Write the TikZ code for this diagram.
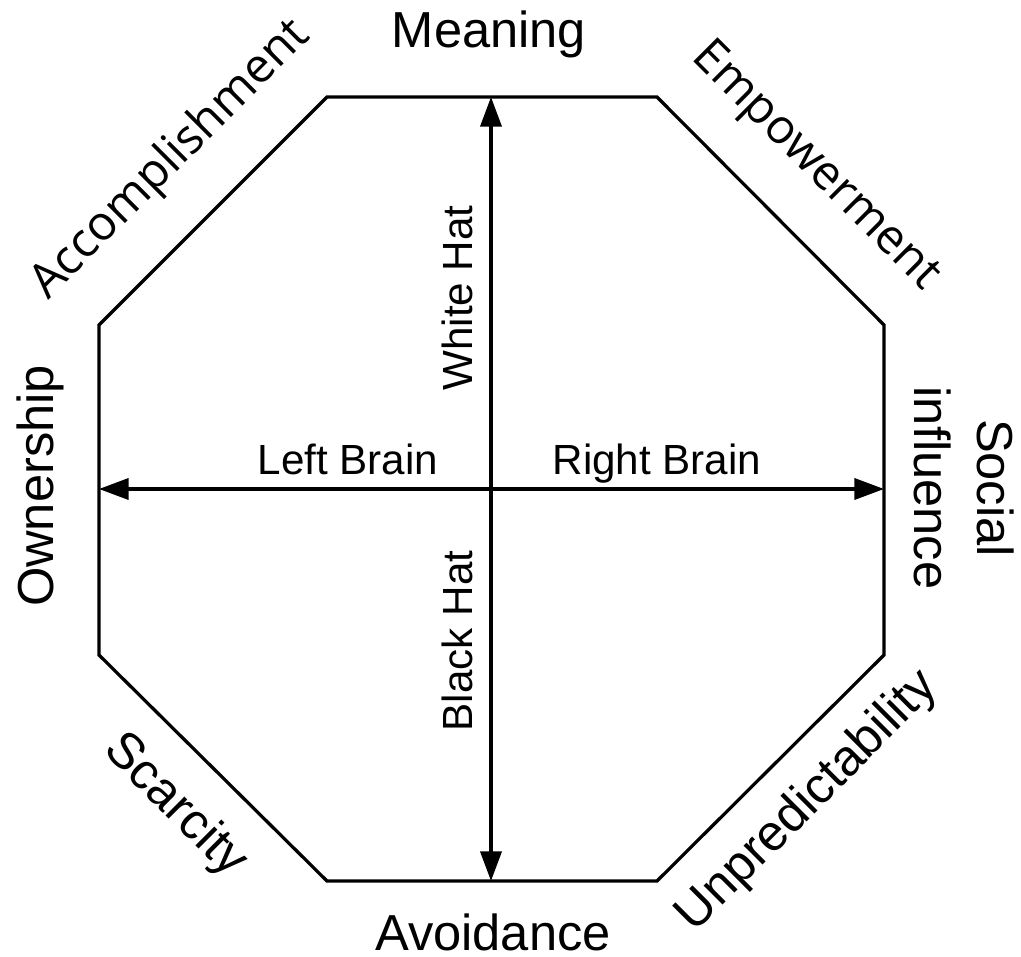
\documentclass[tikz,border=0pt]{standalone}
\usepackage{fontspec}
\setmainfont{Liberation Sans}
\newfontfamily\opensans{Open Sans}
\usetikzlibrary{arrows.meta}
\tikzset{
	outerlabel/.style={font=\fontsize{36}{45}\selectfont, inner sep=0pt, align=center},
	slantlabel/.style={font=\opensans\fontsize{34}{42}\selectfont, inner sep=0pt},
	innerlabel/.style={font=\fontsize{30}{36}\selectfont, inner sep=0pt},
	axisline/.style={line width=2.3pt, {Triangle[length=21pt,width=15pt]}-{Triangle[length=21pt,width=15pt]}}
}
\begin{document}
\begin{tikzpicture}[x=0.025cm,y=-0.025cm]
			\useasboundingbox (0,0) rectangle (1021,957);
			% octagon
			\coordinate (o1) at (327,97);
			\coordinate (o2) at (657,97);
			\coordinate (o3) at (884,325);
			\coordinate (o4) at (884,655);
			\coordinate (o5) at (657,881);
			\coordinate (o6) at (327,881);
			\coordinate (o7) at (99,655);
			\coordinate (o8) at (99,325);
			\draw[line width=2.3pt, line join=miter] (o1) -- (o2) -- (o3) -- (o4) -- (o5) -- (o6) -- (o7) -- (o8) -- cycle;
			% axes
			\coordinate (hattop) at (491,97);
			\coordinate (hatbottom) at (491,881);
			\coordinate (brainleft) at (99,489);
			\coordinate (brainright) at (884,489);
			\draw[axisline] (hattop) -- (hatbottom);
			\draw[axisline] (brainleft) -- (brainright);
			\node[innerlabel, anchor=base] (leftbrain) at (348,475) {Left Brain};
			\node[innerlabel, anchor=base] (rightbrain) at (657,475) {Right Brain};
			\node[innerlabel, rotate=90] (whitehat) at (457,298) {White Hat};
			\node[innerlabel, rotate=90] (blackhat) at (457,641) {Black Hat};
			% drives round the octagon
			\node[outerlabel, anchor=base] (meaning) at (489,48) {Meaning};
			\node[outerlabel, anchor=base] (avoidance) at (493,950) {Avoidance};
			\node[outerlabel, rotate=90] (ownership) at (40,486) {Ownership};
			\node[outerlabel, rotate=-90] (social) at (964,488) {Social\\influence};
			\node[slantlabel, rotate=45] (accomplishment) at (171,160) {Accomplishment};
			\node[slantlabel, rotate=-45] (empowerment) at (815,167) {Empowerment};
			\node[outerlabel, rotate=-45] (scarcity) at (175,806) {Scarcity};
			\node[outerlabel, rotate=45] (unpredictability) at (808,802) {Unpredictability};
		\end{tikzpicture}
\end{document}
